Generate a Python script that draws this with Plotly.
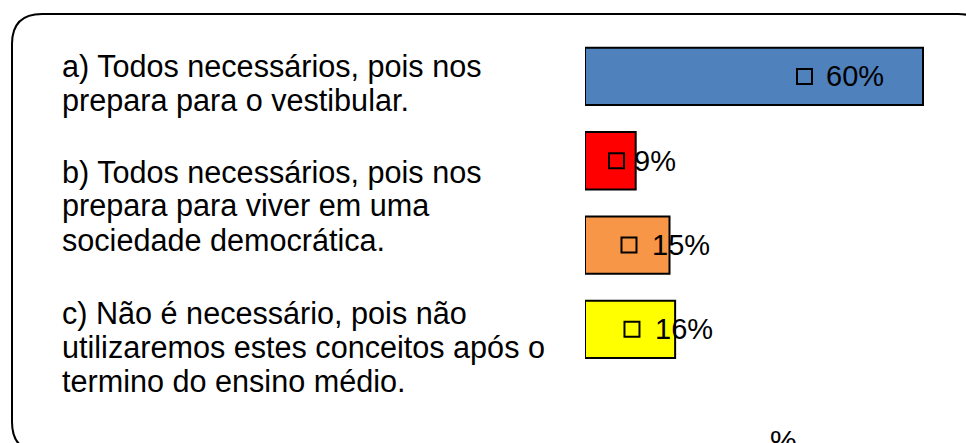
import plotly.graph_objects as go

# ---- data ----
categories = ["a", "b", "c", "d"]
values = [60, 9, 15, 16]
value_labels = ["60%", "9%", "15%", "16%"]
bar_colors = ["#4F81BD", "#FF0000", "#F79646", "#FFFF00"]

option_a = ["a) Todos necessários, pois nos", "prepara para o vestibular."]
option_b = ["b) Todos necessários, pois nos", "prepara para viver em uma", "sociedade democrática."]
option_c = ["c) Não é necessário, pois não", "utilizaremos estes conceitos após o", "termino do ensino médio."]
axis_title = "%"

# ---- layout helpers (label placement, in data units) ----
marker_x = [38.97, 5.59, 7.81, 8.34]
text_x = [42.4, 8.4, 11.6, 12.15]

W, H = 966, 443
FONT = "Liberation Sans, Arial, sans-serif"


def px(x):
    return x / W


def py(y):
    return 1 - y / H


fig = go.Figure()
fig.add_trace(go.Bar(
    x=values, y=categories, orientation="h",
    marker=dict(color=bar_colors, line=dict(color="black", width=2)),
    width=0.68, showlegend=False, hoverinfo="x",
))
fig.add_trace(go.Scatter(
    x=marker_x, y=categories, mode="markers",
    marker=dict(symbol="square-open", size=15, color="black", line=dict(width=2, color="black")),
    showlegend=False, hoverinfo="skip",
))

annotations = []
for xv, cat, lab in zip(text_x, categories, value_labels):
    annotations.append(dict(x=xv, y=cat, xref="x", yref="y", text=lab, showarrow=False,
                            xanchor="left", yanchor="middle",
                            font=dict(family=FONT, size=29, color="black")))

line_y = {"a": [67, 101], "b": [172, 206, 240], "c": [313, 347, 381]}
for key, lines in (("a", option_a), ("b", option_b), ("c", option_c)):
    for txt, yy in zip(lines, line_y[key]):
        annotations.append(dict(x=px(60), y=py(yy), xref="paper", yref="paper", text=txt,
                                showarrow=False, xanchor="left", yanchor="middle",
                                font=dict(family=FONT, size=30.6, color="black")))

annotations.append(dict(x=px(783), y=py(440), xref="paper", yref="paper", text=axis_title,
                        showarrow=False, xanchor="center", yanchor="middle",
                        font=dict(family=FONT, size=30, color="black")))

# rounded frame (extends past the right and bottom edges)
L, T, R, B, r = 12, 14, 988, 452, 30
path = (f"M {px(L)},{py(T + r)} Q {px(L)},{py(T)} {px(L + r)},{py(T)} "
        f"L {px(R - r)},{py(T)} Q {px(R)},{py(T)} {px(R)},{py(T + r)} "
        f"L {px(R)},{py(B - r)} Q {px(R)},{py(B)} {px(R - r)},{py(B)} "
        f"L {px(L + r)},{py(B)} Q {px(L)},{py(B)} {px(L)},{py(B - r)} Z")

fig.update_layout(
    width=W, height=H, autosize=False,
    margin=dict(l=0, r=0, t=0, b=0),
    paper_bgcolor="white", plot_bgcolor="rgba(0,0,0,0)",
    xaxis=dict(domain=[px(585), 1], range=[0, (W - 585) / 5.633], visible=False, fixedrange=True),
    yaxis=dict(domain=[py(371.5), py(34.3)], range=[3.5, -0.5], visible=False,
               categoryorder="array", categoryarray=categories, fixedrange=True),
    annotations=annotations,
    shapes=[dict(type="path", path=path, xref="paper", yref="paper",
                 line=dict(color="black", width=2), fillcolor="rgba(0,0,0,0)", layer="below")],
    font=dict(family=FONT),
)

fig.write_html("out.html", config={"displayModeBar": False},
               post_script="document.body.style.margin='0';")
